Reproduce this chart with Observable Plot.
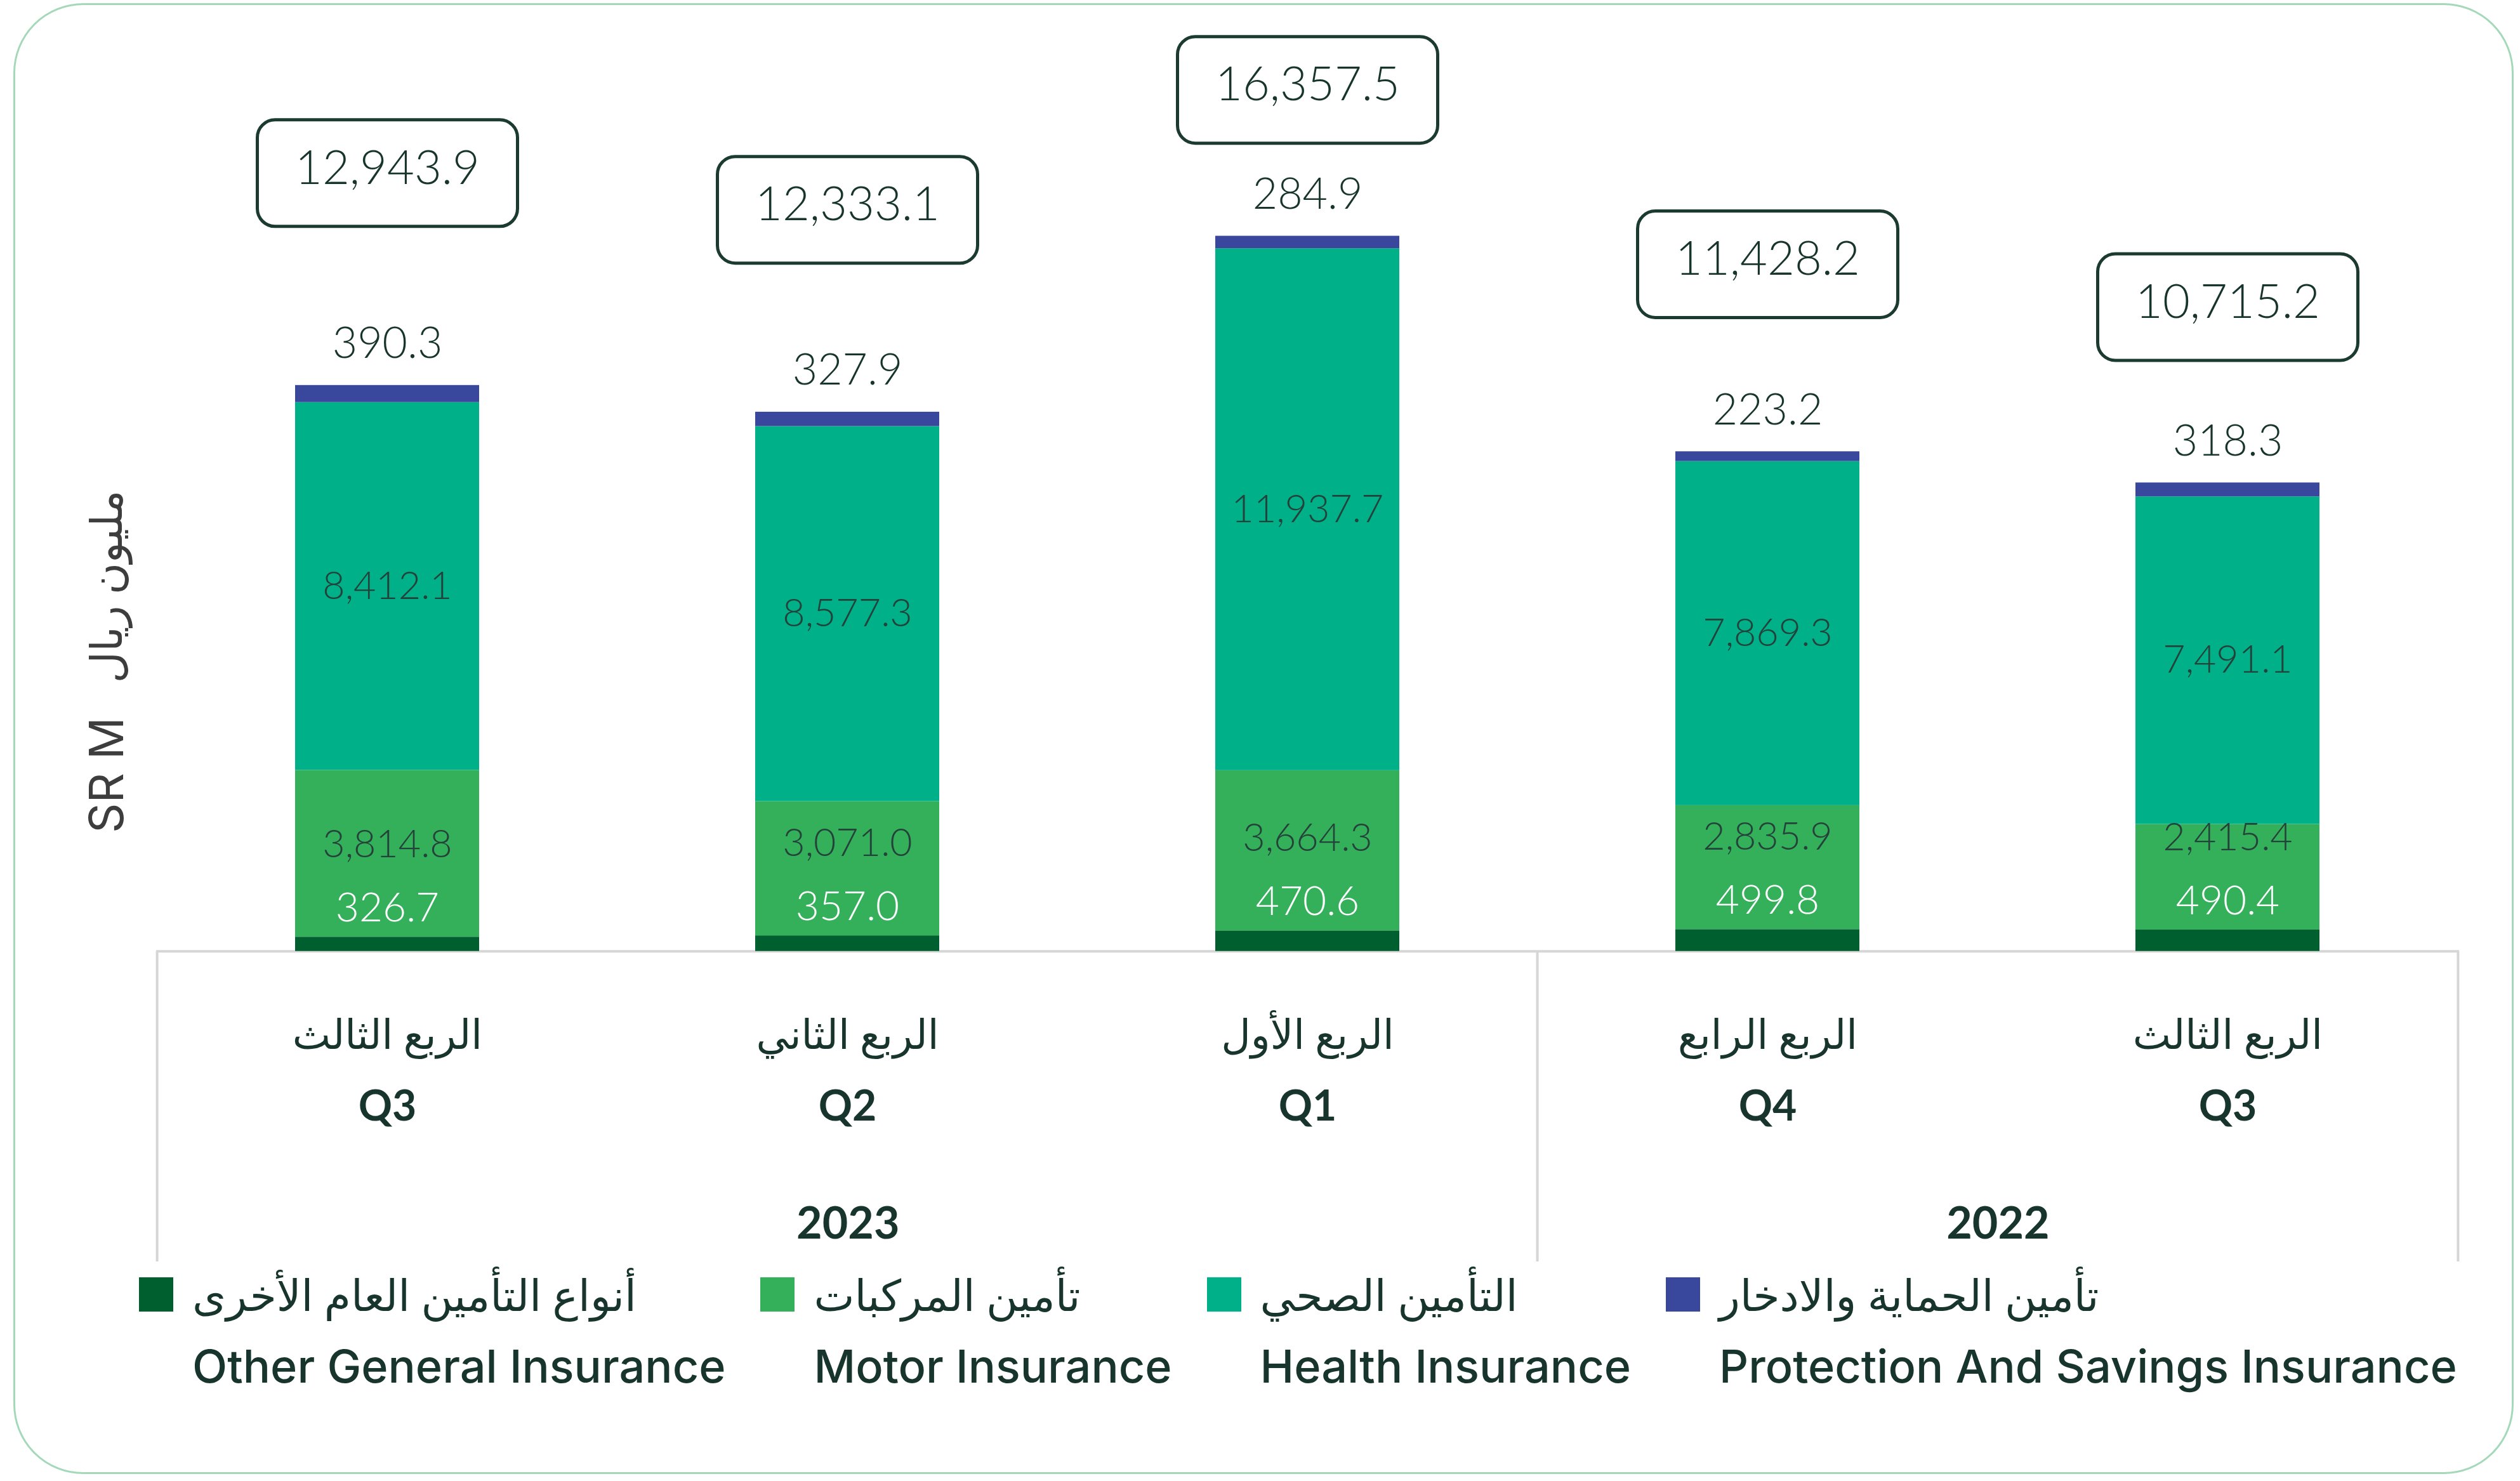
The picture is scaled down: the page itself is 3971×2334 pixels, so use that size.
<!DOCTYPE html>
<html><head><meta charset="utf-8">
<script src="https://cdn.jsdelivr.net/npm/d3@7"></script>
<script src="https://cdn.jsdelivr.net/npm/@observablehq/plot@0.6"></script>
<style>
html,body{margin:0;padding:0;background:#fff;}
#wrap{position:relative;width:3971px;height:2334px;overflow:hidden;font-family:Lato,'DejaVu Sans',sans-serif;color:#17352c;}
#border{position:absolute;left:21px;top:5px;width:3940px;height:2318px;border:3px solid #a3d9b9;border-radius:110px;box-sizing:border-box;pointer-events:none;}
#chart svg{display:block;}
#legend{display:flex;gap:55px;margin-left:219px;}
.item{display:flex;align-items:flex-start;}
.sw{width:54px;height:54px;margin-top:18px;margin-right:30px;flex:none;}
.col{display:flex;flex-direction:column;}
.ar{font-size:68px;line-height:90px;height:90px;white-space:nowrap;}
.en{font-family:Inter,Lato,sans-serif;font-size:72px;line-height:90px;margin-top:23px;font-weight:500;white-space:nowrap;}
</style></head>
<body>
<div id="wrap">
  <div id="chart"></div>
  <div id="legend"></div>
  <div id="border"></div>
</div>
<script>
// ---- data ----
const quarters = ["Q3", "Q2", "Q1", "Q4", "Q3"];
const quartersAr = ["الربع الثالث", "الربع الثاني", "الربع الأول", "الربع الرابع", "الربع الثالث"];
const years = ["2023", "2023", "2023", "2022", "2022"];
const otherGeneral = [326.7, 357.0, 470.6, 499.8, 490.4];
const motor = [3814.8, 3071.0, 3664.3, 2835.9, 2415.4];
const health = [8412.1, 8577.3, 11937.7, 7869.3, 7491.1];
const protection = [390.3, 327.9, 284.9, 223.2, 318.3];
const totals = [12943.9, 12333.1, 16357.5, 11428.2, 10715.2];
const seriesEn = ["Other General Insurance", "Motor Insurance", "Health Insurance", "Protection And Savings Insurance"];
const seriesAr = ["أنواع التأمين العام الأخرى", "تأمين المركبات", "التأمين الصحي", "تأمين الحماية والادخار"];
const seriesColors = ["#005f2e", "#34b05a", "#00b089", "#39489c"];
const unitEn = "SR M";
const unitAr = "مليون ريال";

// ---- derived tables ----
const keys = quarters.map((q, i) => q + " " + years[i]);
const seriesValues = [otherGeneral, motor, health, protection];
const rows = [];
keys.forEach((k, i) => seriesEn.forEach((s, j) => rows.push({key: k, series: s, value: seriesValues[j][i]})));
const qrows = keys.map((k, i) => ({key: k, q: quarters[i], qa: quartersAr[i], year: years[i],
  other: otherGeneral[i], motor: motor[i], health: health[i], protection: protection[i], total: totals[i]}));
const groups = d3.groups(qrows, d => d.year);
const fmt = d3.format(",.1f");

// ---- layout ----
const W = 3971, H = 1995, mL = 246, mR = 96;
const step = (W - mL - mR) / keys.length;
const yMin = -7100, yMax = 21750;
const ink = "#17352c", grid = "#d6d6d6";
const FONT = "Lato, 'DejaVu Sans', sans-serif";

const roundedBox = {
  draw(ctx) {
    const w = 410, h = 168, r = 28, x0 = -w / 2, y0 = -h / 2;
    ctx.moveTo(x0 + r, y0);
    ctx.lineTo(x0 + w - r, y0); ctx.arcTo(x0 + w, y0, x0 + w, y0 + r, r);
    ctx.lineTo(x0 + w, y0 + h - r); ctx.arcTo(x0 + w, y0 + h, x0 + w - r, y0 + h, r);
    ctx.lineTo(x0 + r, y0 + h); ctx.arcTo(x0, y0 + h, x0, y0 + h - r, r);
    ctx.lineTo(x0, y0 + r); ctx.arcTo(x0, y0, x0 + r, y0, r);
    ctx.closePath();
  }
};
const boxY = d => Math.min(d.total * 1.375, 19700);

const marks = [
  Plot.ruleY([0], {stroke: grid, strokeWidth: 4}),
  Plot.ruleX(groups.map(g => g[1][0].key), {x: d => d, y1: () => 0, y2: () => yMin, dx: -step / 2, stroke: grid, strokeWidth: 4}),
  Plot.ruleX([keys[keys.length - 1]], {x: d => d, y1: () => 0, y2: () => yMin, dx: step / 2, stroke: grid, strokeWidth: 4}),
  Plot.barY(rows, {x: "key", y: "value", fill: "series"}),
  Plot.text(rows, Plot.stackY({x: "key", y: "value", z: "series",
    text: d => d.series === seriesEn[2] ? fmt(d.value) : null, fill: "#24413a", fontSize: 61, fontWeight: 300})),
  Plot.text(qrows, {x: "key", y: "other", text: d => fmt(d.motor), dy: -145, fill: "#24413a", fontSize: 61, fontWeight: 300}),
  Plot.text(qrows, {x: "key", y: "other", text: d => fmt(d.other), dy: -45, fill: "#ffffff", fontSize: 64, fontWeight: 300}),
  Plot.text(qrows, {x: "key", y: "total", text: d => fmt(d.protection), dy: -65, fill: ink, fontSize: 68, fontWeight: 300}),
  Plot.dot(qrows, {x: "key", y: boxY, symbol: roundedBox, r: 10, fill: "none", stroke: "#1b3a30", strokeWidth: 5}),
  Plot.text(qrows, {x: "key", y: boxY, text: d => fmt(d.total), dy: -7, fill: ink, fontSize: 74, fontWeight: 300}),
  Plot.text(qrows, {x: "key", y: () => 0, text: "qa", dy: 133, fill: ink, fontSize: 64}),
  Plot.text(qrows, {x: "key", y: () => 0, text: "q", dy: 246, fill: ink, fontSize: 66, fontWeight: 700}),
  ...groups.map(([year, g]) => Plot.text([year], {x: () => g[0].key, y: () => 0, text: d => d, dy: 430,
    dx: (g.length - 1) / 2 * step, fill: ink, fontSize: 70, fontWeight: 700})),
  Plot.text([unitEn], {frameAnchor: "left", textAnchor: "middle", rotate: -90, dx: -76, dy: 227,
    fill: "#3d3d3d", fontSize: 74, fontFamily: "Inter, Lato, sans-serif"}),
  Plot.text([unitAr], {frameAnchor: "left", textAnchor: "middle", rotate: -90, dx: -76, dy: -70,
    fill: "#3d3d3d", fontSize: 68})
];

const chart = Plot.plot({
  width: W, height: H, marginTop: 0, marginBottom: 7, marginLeft: mL, marginRight: mR,
  style: {fontFamily: FONT, background: "transparent", overflow: "visible"},
  x: {type: "band", domain: keys, paddingInner: 0.6, paddingOuter: 0.3, axis: null},
  y: {domain: [yMin, yMax], axis: null},
  color: {domain: seriesEn, range: seriesColors},
  marks
});
document.getElementById("chart").appendChild(chart);

const legend = document.getElementById("legend");
seriesEn.forEach((s, i) => {
  const item = document.createElement("div"); item.className = "item";
  const sw = document.createElement("div"); sw.className = "sw"; sw.style.background = seriesColors[i];
  const col = document.createElement("div"); col.className = "col";
  const ar = document.createElement("div"); ar.className = "ar"; ar.textContent = seriesAr[i];
  const en = document.createElement("div"); en.className = "en"; en.textContent = s;
  col.append(ar, en); item.append(sw, col); legend.append(item);
});
</script>
</body></html>
